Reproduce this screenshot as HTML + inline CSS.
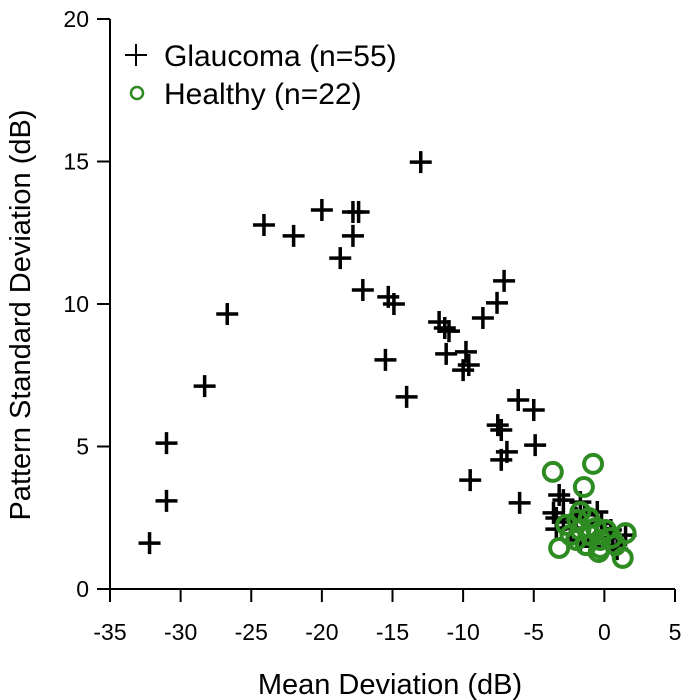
<!DOCTYPE html>
<html><head><meta charset="utf-8"><style>
html,body{margin:0;padding:0;background:#fff;}
svg{display:block;font-family:"Liberation Sans",Arial,sans-serif;}
</style></head><body>
<svg id="chart" width="700" height="700" viewBox="0 0 700 700">
<g id="axes"></g>
<g id="marks"></g>
<text x="390" y="694" font-size="29" text-anchor="middle" fill="#000">Mean Deviation (dB)</text>
<text transform="translate(30,315) rotate(-90)" font-size="29" text-anchor="middle" fill="#000">Pattern Standard Deviation (dB)</text>
<g>
  <g>
    <path d="M125 55 H147 M136 44 V66" stroke="#000" stroke-width="2"/>
    <text x="164" y="66" font-size="30" fill="#000">Glaucoma (n=55)</text>
  </g>
  <g>
    <circle cx="137" cy="93" r="6" fill="none" stroke="#2e8b22" stroke-width="2.5"/>
    <text x="164" y="104" font-size="30" fill="#000">Healthy (n=22)</text>
  </g>
</g>
</svg>
<script>
const xTicks=[-35,-30,-25,-20,-15,-10,-5,0,5];
const yTicks=[0,5,10,15,20];
const glaucomaMD=[-32.2,-31.0,-31.0,-28.3,-26.7,-24.1,-22.0,-20.0,-18.7,-17.8,-17.8,-17.4,-17.1,-15.3,-14.9,-15.5,-14.0,-13.0,-11.7,-11.3,-11.2,-11.0,-9.8,-10.0,-9.6,-9.5,-8.6,-7.6,-7.1,-7.55,-7.3,-7.3,-6.9,-6.1,-6.0,-5.0,-4.9,-3.6,-3.2,-3.4,-2.9,-2.9,-1.7,-1.4,-0.5,-0.6,0.46,0.6,-1.7,-2.4,1.5,-3.4,-1.0,0.2,-2.0,0.9,-0.2];
const glaucomaPSD=[1.61,5.12,3.09,7.12,9.65,12.77,12.39,13.30,11.61,12.39,13.23,13.23,10.49,10.25,10.0,8.04,6.74,14.98,9.37,9.16,8.25,9.05,8.32,7.68,7.86,3.82,9.51,10.04,10.81,5.75,5.58,4.53,4.81,6.63,3.02,6.28,5.05,2.67,3.30,2.49,3.12,2.35,3.05,2.60,2.70,2.25,2.07,1.54,1.72,2.14,1.89,2.1,1.5,1.8,2.5,1.4,2.3];
const healthyMD=[-3.65,-0.8,-1.45,-1.7,-3.2,-1.9,1.5,-0.4,1.3,-2.4,-1.0,-0.3,0.5,-1.3,-2.0,0.1,0.8,-0.6,-2.7,-1.1,-0.3,-1.7];
const healthyPSD=[4.11,4.39,3.58,2.70,1.44,2.42,1.96,1.30,1.09,1.89,1.89,1.72,1.79,1.54,1.72,2.07,1.54,2.14,2.25,2.49,1.44,2.07];
const NS='http://www.w3.org/2000/svg';
const X0=110,X1=675,Y0=589,Y1=19;
function sx(v){return X0+(v-(-35))/(5-(-35))*(X1-X0);}
function sy(v){return Y0-(v-0)/(20-0)*(Y0-Y1);}
function mk(tag,attrs,parent){const e=document.createElementNS(NS,tag);for(const k in attrs)e.setAttribute(k,attrs[k]);parent.appendChild(e);return e;}
const axes=document.getElementById('axes');
const marks=document.getElementById('marks');
const xl=mk('line',{x1:X0,y1:Y0,x2:X1,y2:Y0,stroke:'#000','stroke-width':2},axes);


const yl=mk('line',{x1:X0,y1:Y0,x2:X0,y2:Y1,stroke:'#000','stroke-width':2},axes);


xTicks.forEach(t=>{
  const x=sx(t);
  const tk=mk('line',{x1:x,y1:Y0,x2:x,y2:Y0+13,stroke:'#000','stroke-width':2},axes);
  
  
  const lb=mk('text',{x:x,y:Y0+51,'font-size':23,'text-anchor':'middle',fill:'#000'},axes);
  lb.textContent=t;
  
  
});
yTicks.forEach(t=>{
  const y=sy(t);
  const tk=mk('line',{x1:X0-13,y1:y,x2:X0,y2:y,stroke:'#000','stroke-width':2},axes);
  
  
  const lb=mk('text',{x:X0-21,y:y+8,'font-size':23,'text-anchor':'end',fill:'#000'},axes);
  lb.textContent=t;
  
  
});
glaucomaMD.forEach((v,i)=>{
  const x=sx(v),y=sy(glaucomaPSD[i]);
  const p=mk('path',{d:`M${x-11} ${y} H${x+11} M${x} ${y-11} V${y+11}`,stroke:'#000','stroke-width':3.5,fill:'none'},marks);
  
  
});
healthyMD.forEach((v,i)=>{
  const c=mk('circle',{cx:sx(v),cy:sy(healthyPSD[i]),r:9,fill:'none',stroke:'#2e8b22','stroke-width':4},marks);
  
  
});
</script>
</body></html>
